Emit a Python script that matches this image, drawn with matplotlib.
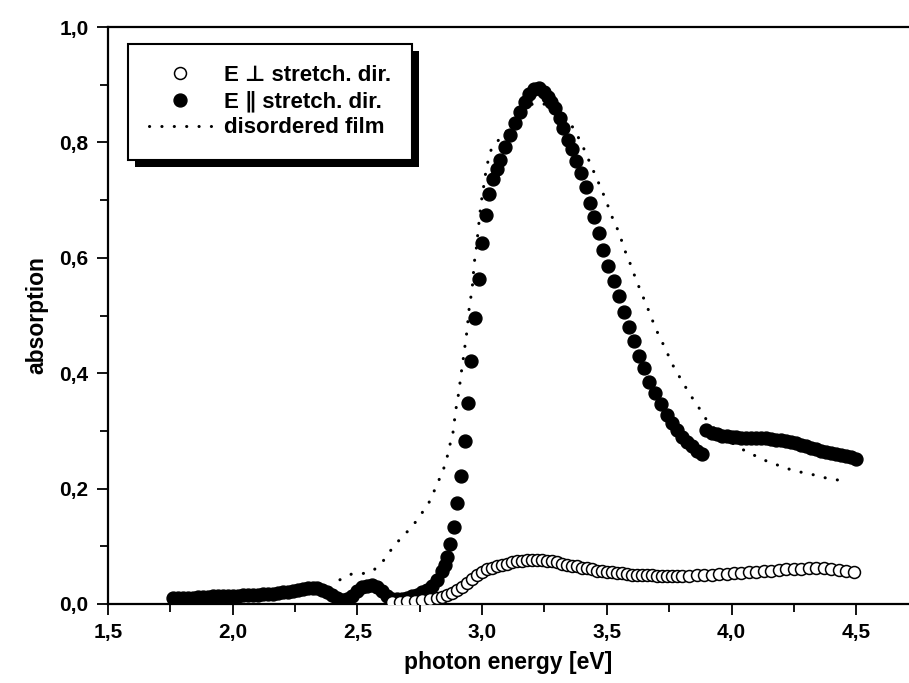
import matplotlib
matplotlib.use("Agg")
import matplotlib.pyplot as plt
from matplotlib.patches import Rectangle
from matplotlib.transforms import IdentityTransform

plt.rcParams['font.family'] = ['Liberation Sans', 'DejaVu Sans']
plt.rcParams['font.weight'] = 'bold'
plt.rcParams['axes.labelweight'] = 'bold'

# ---- data ----
energy_par = [1.76, 1.78, 1.80, 1.82, 1.84, 1.86, 1.88, 1.90, 1.92, 1.94, 1.96, 1.98,
              2.00, 2.02, 2.04, 2.06, 2.08, 2.10, 2.12, 2.14, 2.16, 2.18, 2.20, 2.22,
              2.24, 2.26, 2.28, 2.30, 2.32, 2.34, 2.36, 2.38, 2.40, 2.42, 2.44, 2.46,
              2.48, 2.50, 2.52, 2.54, 2.56, 2.58, 2.60, 2.62, 2.64, 2.66, 2.68, 2.70,
              2.72, 2.74, 2.76, 2.78, 2.80, 2.82, 2.84, 2.85, 2.859, 2.871, 2.887, 2.899,
              2.915, 2.932, 2.944, 2.956, 2.972, 2.988, 3.000, 3.016, 3.028, 3.044, 3.058,
              3.072, 3.092, 3.112, 3.132, 3.152, 3.172, 3.19, 3.21, 3.23, 3.25, 3.264,
              3.278, 3.292, 3.312, 3.324, 3.344, 3.360, 3.376, 3.397, 3.417, 3.433, 3.449,
              3.469, 3.485, 3.505, 3.527, 3.547, 3.569, 3.589, 3.609, 3.629, 3.649, 3.669,
              3.693, 3.717, 3.741, 3.760, 3.780, 3.800, 3.820, 3.840, 3.860, 3.882,
              3.898, 3.92, 3.94, 3.96, 3.98, 4.00, 4.02, 4.04, 4.06, 4.08, 4.10, 4.12,
              4.14, 4.16, 4.18, 4.20, 4.22, 4.24, 4.26, 4.28, 4.30, 4.32, 4.34, 4.36,
              4.38, 4.40, 4.42, 4.44, 4.46, 4.48, 4.50]
absorb_par = [0.010, 0.010, 0.010, 0.011, 0.011, 0.012, 0.012, 0.012, 0.013, 0.013, 0.013, 0.014,
              0.014, 0.014, 0.015, 0.015, 0.016, 0.016, 0.017, 0.017, 0.018, 0.019, 0.020, 0.021,
              0.022, 0.024, 0.026, 0.027, 0.028, 0.027, 0.024, 0.020, 0.015, 0.010, 0.007, 0.008,
              0.014, 0.022, 0.029, 0.032, 0.033, 0.030, 0.022, 0.013, 0.009, 0.008, 0.009, 0.011,
              0.013, 0.016, 0.020, 0.025, 0.031, 0.041, 0.058, 0.068, 0.081, 0.104, 0.134, 0.175,
              0.222, 0.283, 0.348, 0.421, 0.496, 0.564, 0.626, 0.674, 0.711, 0.737, 0.754,
              0.769, 0.792, 0.813, 0.834, 0.853, 0.870, 0.884, 0.893, 0.894, 0.887, 0.879,
              0.870, 0.860, 0.842, 0.825, 0.804, 0.789, 0.768, 0.747, 0.723, 0.695, 0.671,
              0.643, 0.613, 0.586, 0.560, 0.534, 0.506, 0.480, 0.456, 0.430, 0.409, 0.385,
              0.366, 0.347, 0.328, 0.314, 0.301, 0.290, 0.281, 0.273, 0.266, 0.260,
              0.302, 0.297, 0.294, 0.292, 0.291, 0.290, 0.289, 0.288, 0.288, 0.288, 0.288, 0.287,
              0.287, 0.286, 0.285, 0.284, 0.283, 0.281, 0.279, 0.276, 0.273, 0.270, 0.268, 0.266,
              0.264, 0.262, 0.260, 0.258, 0.256, 0.254, 0.252]

energy_perp = [2.64, 2.67, 2.70, 2.73, 2.76, 2.79, 2.82, 2.84, 2.86, 2.88, 2.90, 2.92, 2.94,
               2.96, 2.98, 3.00, 3.02, 3.04, 3.06, 3.08, 3.10, 3.12, 3.14, 3.16, 3.18, 3.20,
               3.22, 3.24, 3.26, 3.28, 3.30, 3.32, 3.34, 3.36, 3.38, 3.40, 3.42, 3.44, 3.46,
               3.48, 3.50, 3.52, 3.54, 3.56, 3.58, 3.60, 3.62, 3.64, 3.66, 3.68, 3.70, 3.72,
               3.74, 3.76, 3.78, 3.80, 3.83, 3.86, 3.89, 3.92, 3.95, 3.98, 4.01, 4.04, 4.07,
               4.10, 4.13, 4.16, 4.19, 4.22, 4.25, 4.28, 4.31, 4.34, 4.37, 4.40, 4.43, 4.46, 4.49]
absorb_perp = [0.004, 0.004, 0.005, 0.006, 0.007, 0.008, 0.010, 0.012, 0.015, 0.019, 0.024, 0.030, 0.037,
               0.044, 0.050, 0.056, 0.060, 0.063, 0.066, 0.068, 0.070, 0.072, 0.074, 0.075, 0.076, 0.077,
               0.077, 0.076, 0.075, 0.074, 0.072, 0.070, 0.068, 0.066, 0.065, 0.063, 0.062, 0.060, 0.058,
               0.057, 0.056, 0.055, 0.054, 0.053, 0.052, 0.051, 0.051, 0.050, 0.050, 0.050, 0.049, 0.049,
               0.049, 0.049, 0.049, 0.049, 0.049, 0.050, 0.050, 0.051, 0.052, 0.052, 0.053, 0.054, 0.055,
               0.056, 0.057, 0.058, 0.059, 0.060, 0.061, 0.061, 0.062, 0.062, 0.062, 0.061, 0.059, 0.057, 0.055]

energy_dis = [2.430, 2.477, 2.524, 2.564, 2.604, 2.637, 2.678, 2.718, 2.751, 2.784, 2.804, 2.824,
              2.844, 2.858, 2.869, 2.882, 2.888, 2.893, 2.901, 2.909, 2.914, 2.921, 2.927, 2.933,
              2.939, 2.948, 2.955, 2.961, 2.969, 2.976, 2.985, 2.995, 3.005, 3.016, 3.025, 3.038,
              3.072, 3.10, 3.15, 3.20, 3.24, 3.28, 3.32, 3.346, 3.373, 3.399, 3.419, 3.439,
              3.459, 3.479, 3.499, 3.515, 3.532, 3.553, 3.566, 3.586, 3.603, 3.620, 3.640, 3.657,
              3.676, 3.693, 3.716, 3.738, 3.758, 3.783, 3.810, 3.840, 3.871, 3.900, 3.94, 3.99,
              4.034, 4.077, 4.121, 4.165, 4.208, 4.251, 4.295, 4.339, 4.382, 4.425, 4.468]
absorb_dis = [0.042, 0.052, 0.053, 0.058, 0.075, 0.095, 0.116, 0.133, 0.153, 0.173, 0.192, 0.212,
              0.232, 0.251, 0.273, 0.293, 0.313, 0.333, 0.352, 0.374, 0.394, 0.414, 0.433, 0.453,
              0.472, 0.512, 0.532, 0.551, 0.593, 0.613, 0.651, 0.692, 0.720, 0.752, 0.770, 0.790,
              0.807, 0.820, 0.845, 0.866, 0.868, 0.860, 0.848, 0.839, 0.819, 0.798, 0.778, 0.758,
              0.738, 0.718, 0.697, 0.677, 0.660, 0.640, 0.619, 0.599, 0.579, 0.559, 0.538, 0.520,
              0.500, 0.480, 0.459, 0.440, 0.419, 0.400, 0.380, 0.359, 0.339, 0.319, 0.300, 0.283,
              0.270, 0.261, 0.251, 0.244, 0.237, 0.231, 0.227, 0.223, 0.218, 0.215, 0.211]

x_major = [1.5, 2.0, 2.5, 3.0, 3.5, 4.0, 4.5]
x_major_labels = ['1,5', '2,0', '2,5', '3,0', '3,5', '4,0', '4,5']
x_minor = [1.75, 2.25, 2.75, 3.25, 3.75, 4.25]
y_major = [0.0, 0.2, 0.4, 0.6, 0.8, 1.0]
y_major_labels = ['0,0', '0,2', '0,4', '0,6', '0,8', '1,0']
y_minor = [0.1, 0.3, 0.5, 0.7, 0.9]

labels = ['E \u22a5 stretch. dir.', 'E \u2225 stretch. dir.', 'disordered film']

# ---- figure ----
W, H = 909, 683
fig = plt.figure(figsize=(W / 100, H / 100), dpi=100)
ax = fig.add_axes([108 / W, 1 - 604 / H, (W - 108) / W, 577 / H])

l_perp, = ax.plot(energy_perp, absorb_perp, linestyle='none', marker='o', markersize=8.6,
                  markerfacecolor='white', markeredgecolor='black', markeredgewidth=1.1, zorder=3)
l_par, = ax.plot(energy_par, absorb_par, linestyle='none', marker='o', markersize=9.3,
                 markerfacecolor='black', markeredgecolor='black', zorder=2)
l_dis, = ax.plot(energy_dis, absorb_dis, color='black', linewidth=2.2,
                 linestyle=(0, (0.05, 4.0)), dash_capstyle='round', zorder=1)

ax.set_xlim(1.5, 1.5 + (W - 108) / 249.4)
ax.set_ylim(0.0, 1.0)

ax.set_xticks(x_major)
ax.set_xticklabels(x_major_labels)
ax.set_xticks(x_minor, minor=True)
ax.set_yticks(y_major)
ax.set_yticklabels(y_major_labels)
ax.set_yticks(y_minor, minor=True)

ax.spines['right'].set_visible(False)
for s in ['left', 'bottom', 'top']:
    ax.spines[s].set_linewidth(1.6)
ax.tick_params(axis='both', which='major', direction='out', length=8, width=1.3,
               labelsize=15, pad=6)
ax.tick_params(axis='both', which='minor', direction='out', length=6, width=1.3)
ax.tick_params(top=False, right=False, which='both')

ax.set_xlabel('photon energy [eV]', fontsize=16.5, fontweight='bold', labelpad=6)
ax.set_ylabel('absorption', fontsize=16.5, fontweight='bold', labelpad=8)

leg = ax.legend([l_perp, l_par, l_dis], labels, loc='upper left',
                bbox_to_anchor=(20 / 801, 1 - 17 / 577), borderaxespad=0,
                prop={'size': 16, 'weight': 'bold'}, frameon=True, fancybox=False,
                shadow=False, handlelength=2.8, handletextpad=0.55, borderpad=0.95,
                labelspacing=0.22, markerscale=1.0)
leg.get_frame().set_edgecolor('black')
leg.get_frame().set_linewidth(1.5)
leg.get_frame().set_alpha(1)
leg.set_zorder(6)

fig.canvas.draw()
bb = leg.get_window_extent()
ax.add_patch(Rectangle((bb.x0 + 7, bb.y0 - 7), bb.width, bb.height, transform=IdentityTransform(),
                       facecolor='black', edgecolor='none', zorder=5, clip_on=False))

fig.savefig('out.png', dpi=100)
